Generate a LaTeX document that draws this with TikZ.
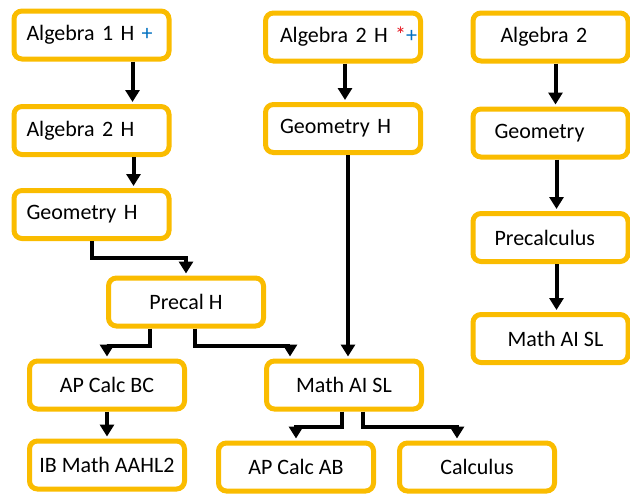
\documentclass[tikz,border=0pt]{standalone}
\usepackage{fontspec}
\setmainfont{Carlito}
\usepackage{tikz}
\usetikzlibrary{arrows.meta, calc}
\definecolor{gold}{RGB}{250,188,0}
\definecolor{plusblue}{RGB}{0,112,192}
\definecolor{starred}{RGB}{230,20,30}

\begin{document}
\begin{tikzpicture}[
    x=0.5pt, y=-0.5pt,
    box/.style={draw=gold, line width=2.5pt, rounded corners=4pt, fill=white,
                minimum width=77.5pt, minimum height=24pt, inner sep=0pt,
                align=center, font=\fontsize{11pt}{13pt}\selectfont},
    lbox/.style={box, align=left, text width=#1},
    arr/.style={-{Triangle[length=6pt, width=7pt]}, line width=2pt,
                shorten >=1pt},
  ]
    \useasboundingbox (0,0) rectangle (630,498);

    % Nodes -- left column (honors)
    \node[lbox=65pt] (alg1h) at (91.5,35)  {Algebra 1 H \textcolor{plusblue}{+}};
    \node[lbox=65pt] (alg2h) at (91.5,130.5) {Algebra 2 H};
    \node[lbox=65pt] (geoh)  at (91.5,214.5) {Geometry H};
    \node[box]       (prech) at (186,302)  {Precal H};
    \node[box]       (apbc)  at (107,385)  {AP Calc BC};
    \node[box]       (ibhl)  at (107,465)  {IB Math AAHL2};

    % Nodes -- middle column
    \node[lbox=63pt] (alg2hm) at (343,37)
      {\mbox{Algebra 2 H \textcolor{starred}{*}\textcolor{plusblue}{+}}};
    \node[lbox=63pt] (geomh)  at (343,128.5) {Geometry H};
    \node[box]       (aisl)   at (344,385)   {Math AI SL};
    \node[box]       (apab)   at (296,467)   {AP Calc AB};
    \node[box]       (calc)   at (477,467)   {Calculus};

    % Nodes -- right column
    \node[lbox=50pt] (alg2)    at (550.5,37)    {Algebra 2};
    \node[lbox=56pt] (geom)    at (550.5,133)   {Geometry};
    \node[lbox=56pt] (precalc) at (550.5,237.5) {Precalculus};
    \node[box]       (aislr)   at (550.5,338.5) {\hspace*{5pt}Math AI SL};

    % Connections
    \draw[arr] ([xshift=20.5pt]alg1h.south) -- ([xshift=20.5pt]alg2h.north);
    \draw[arr] ([xshift=21pt]alg2h.south) -- ([xshift=21pt]geoh.north);
    \draw[arr] (geoh.south) -- ++(0,17) -| (prech.north);
    \draw[arr] ([xshift=-18pt]prech.south) -- ++(0,17) -| (apbc.north);
    \draw[arr] ([xshift=4.5pt]prech.south) -- ++(0,17) -| ([xshift=-27pt]aisl.north);
    \draw[arr] (apbc.south) -- (ibhl.north);

    \draw[arr] ([xshift=1pt]alg2hm.south) -- ([xshift=1pt]geomh.north);
    \draw[arr] ([xshift=2.5pt]geomh.south) -- ([xshift=2.5pt]geomh.south |- aisl.north);
    \draw[arr] ([xshift=-1pt]aisl.south) -- ++(0,15) -| (apab.north);
    \draw[arr] ([xshift=9.5pt]aisl.south) -- ++(0,15) -| ([xshift=-10pt]calc.north);

    \draw[arr] ([xshift=2.5pt]alg2.south) -- ([xshift=2.5pt]geom.north);
    \draw[arr] ([xshift=3pt]geom.south) -- ([xshift=3pt]precalc.north);
    \draw[arr] ([xshift=3pt]precalc.south) -- ([xshift=3pt]aislr.north);
  \end{tikzpicture}
\end{document}
